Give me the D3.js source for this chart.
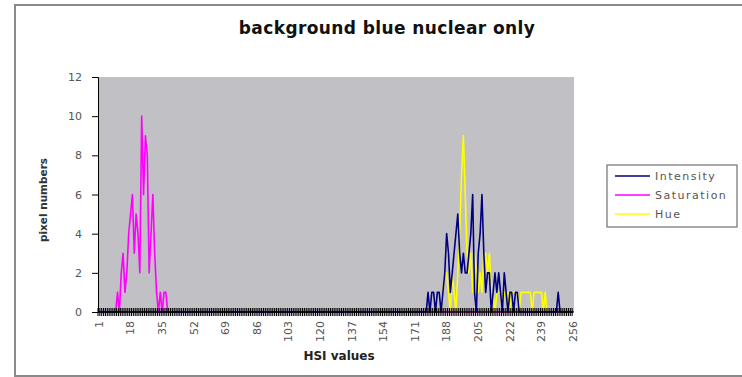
<!DOCTYPE html>
<html>
<head>
<meta charset="utf-8">
<script src="https://cdn.jsdelivr.net/npm/d3@7"></script>
<style>
  html, body { margin: 0; padding: 0; background: #fff; }
  svg { display: block; }
  text { font-family: "DejaVu Sans", Verdana, sans-serif; }
</style>
</head>
<body>
<svg id="chart" width="742" height="377"></svg>
<script>
// HSI histogram: 256 bins, most of them empty.
const binCount = 256;
const tickLabels = [1, 18, 35, 52, 69, 86, 103, 120, 137, 154, 171, 188, 205, 222, 239, 256];
const yTicks = [0, 2, 4, 6, 8, 10, 12];
const seriesNames = ["Intensity", "Saturation", "Hue"];
const seriesColors = ["#000080", "#ff00ff", "#ffff00"];

// Non-empty stretch of each histogram (first bin, then counts per bin).
const intensityStart = 178;
const intensityValues = [1, 0, 1, 1, 0, 1, 1, 0, 1, 2, 4, 3, 1, 2, 3, 4, 5, 3, 2, 3, 2, 2, 3, 4, 6, 1, 0, 3, 4, 6, 3, 1, 2, 2, 0, 1, 2, 1, 2, 1, 0, 2, 1, 0, 1, 1, 0, 1, 1, 0, 0, 0, 0, 0, 0, 0, 0, 0, 0, 0, 0, 0, 0, 0, 0, 0, 0, 0, 0, 0, 1];
const saturationStart = 11;
const saturationValues = [1, 0, 2, 3, 1, 2, 4, 5, 6, 3, 5, 4, 2, 10, 6, 9, 8, 2, 4, 6, 3, 1, 0, 1, 0, 1, 1];
const hueStart = 186;
const hueValues = [1, 2, 2, 1, 0, 2, 1, 0, 2, 4, 7, 9, 6, 3, 2, 3, 1, 3, 2, 1, 2, 1, 3, 3, 2, 3, 1, 1, 0, 1, 1, 1, 0, 1, 1, 1, 0, 1, 1, 1, 1, 0, 1, 1, 1, 1, 1, 1, 0, 1, 1, 1, 1, 1, 0, 1];

const bins = d3.range(1, binCount + 1);
function fullSeries(start, values) {
  return bins.map(b => {
    const i = b - start;
    return (i >= 0 && i < values.length) ? values[i] : 0;
  });
}
const series = [
  fullSeries(intensityStart, intensityValues),
  fullSeries(saturationStart, saturationValues),
  fullSeries(hueStart, hueValues)
];

const svg = d3.select("#chart");

// outer chart frame
svg.append("rect")
  .attr("x", 15).attr("y", 5).attr("width", 740).attr("height", 371)
  .attr("fill", "#fff").attr("stroke", "#8a8a8a").attr("stroke-width", 2);

const plot = { left: 98, right: 574, top: 77, bottom: 312 };

const x = d3.scaleBand().domain(bins).range([plot.left, plot.right]).padding(0);
const y = d3.scaleLinear().domain([0, 12]).range([plot.bottom, plot.top]);
const cx = b => x(b) + x.bandwidth() / 2;

// plot area
svg.append("rect")
  .attr("x", plot.left).attr("y", plot.top)
  .attr("width", plot.right - plot.left).attr("height", plot.bottom - plot.top)
  .attr("fill", "#c1c0c4");

// series lines: hue first, then saturation, intensity on top
const line = d3.line().x((d, i) => cx(bins[i])).y(d => y(d));
[2, 1, 0].forEach(k => {
  svg.append("path")
    .datum(series[k])
    .attr("d", line)
    .attr("fill", "none")
    .attr("stroke", seriesColors[k])
    .attr("stroke-width", 1.6)
    .attr("stroke-linejoin", "round");
});

// y axis
const yAxis = d3.axisLeft(y).tickValues(yTicks).tickSize(6).tickPadding(10);
const gy = svg.append("g").attr("transform", `translate(${plot.left},0)`).call(yAxis);
gy.select(".domain").attr("stroke", "#000");
gy.selectAll(".tick line").attr("stroke", "#000");
gy.selectAll(".tick text").attr("font-size", 11).attr("fill", "#555")
  .attr("font-family", "'DejaVu Sans', Verdana, sans-serif");

// x axis: a tick mark at every bin boundary, crossing the axis
const gx = svg.append("g");
gx.selectAll("line.mark")
  .data(bins)
  .join("line")
  .attr("class", "mark")
  .attr("x1", b => x(b)).attr("x2", b => x(b))
  .attr("y1", plot.bottom - 4).attr("y2", plot.bottom + 4)
  .attr("stroke", "#000").attr("stroke-width", 1.1);
gx.append("line")
  .attr("x1", plot.left).attr("x2", plot.right)
  .attr("y1", plot.bottom).attr("y2", plot.bottom)
  .attr("stroke", "#000");

// rotated category labels every 17 bins
gx.selectAll("text.lbl")
  .data(tickLabels)
  .join("text")
  .attr("class", "lbl")
  .attr("transform", b => `translate(${cx(b)},${plot.bottom + 9}) rotate(-90)`)
  .attr("text-anchor", "end")
  .attr("dy", "0.35em")
  .attr("font-size", 11)
  .attr("fill", "#555")
  .text(b => b);

// titles
svg.append("text")
  .attr("x", 387).attr("y", 34)
  .attr("text-anchor", "middle")
  .attr("font-size", 17).attr("font-weight", "bold").attr("fill", "#111")
  .attr("letter-spacing", 0.4)
  .text("background blue nuclear only");

svg.append("text")
  .attr("x", 339).attr("y", 360)
  .attr("text-anchor", "middle")
  .attr("font-size", 12).attr("font-weight", "bold").attr("fill", "#222")
  .text("HSI values");

svg.append("text")
  .attr("transform", "translate(47,200) rotate(-90)")
  .attr("text-anchor", "middle")
  .attr("font-size", 10.5).attr("font-weight", "bold").attr("fill", "#333")
  .text("pixel numbers");

// legend
const legend = svg.append("g");
legend.append("rect")
  .attr("x", 607).attr("y", 165).attr("width", 130).attr("height", 62)
  .attr("fill", "#fff").attr("stroke", "#555").attr("stroke-width", 1);
seriesNames.forEach((name, i) => {
  const ly = 176 + i * 19;
  legend.append("line")
    .attr("x1", 615).attr("x2", 650).attr("y1", ly).attr("y2", ly)
    .attr("stroke", seriesColors[i]).attr("stroke-width", 1.6);
  legend.append("text")
    .attr("x", 655).attr("y", ly).attr("dy", "0.35em")
    .attr("font-size", 11).attr("fill", "#555")
    .attr("letter-spacing", 1.5)
    .text(name);
});
</script>
</body>
</html>
